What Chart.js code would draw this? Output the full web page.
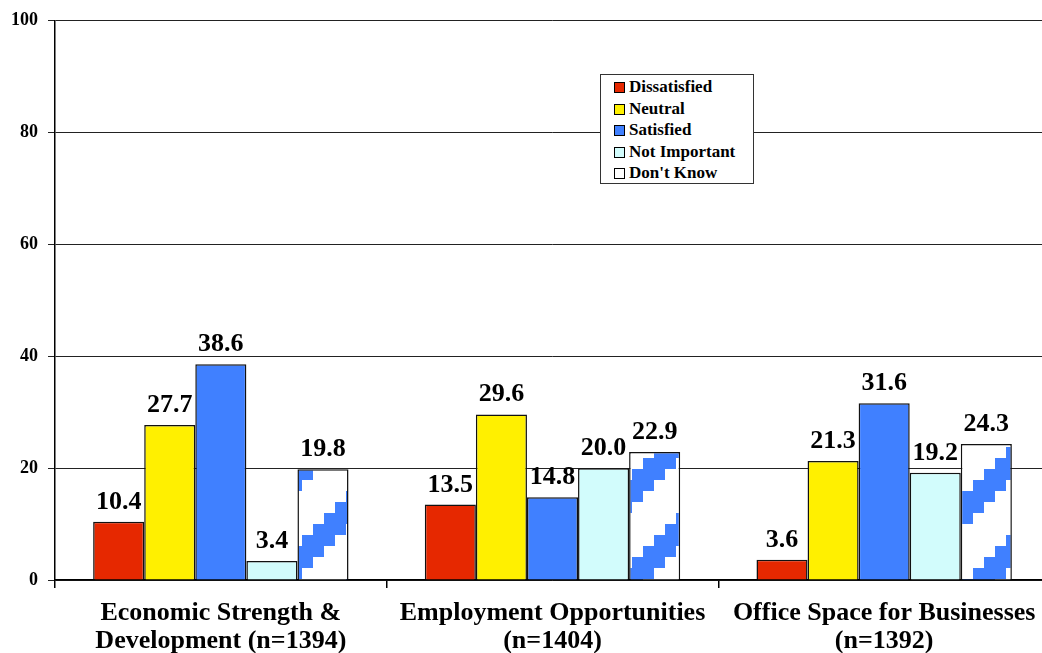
<!DOCTYPE html>
<html lang="en">
<head>
  <meta charset="UTF-8" />
  <title>Satisfaction ratings</title>
  <script src="https://cdn.jsdelivr.net/npm/chart.js"></script>
  <style>
    body {
      margin: 0;
      background: #fff;
      overflow: hidden;
    }
    .wrap {
      position: relative;
      width: 1050px;
      height: 653px;
    }
    .legenda {
      position: absolute;
      left: 600px;
      top: 74px;
      width: 152px;
      height: 107px;
      border: 1.5px solid #333;
      background: #fff;
      padding-top: 1px;
      font-family: 'Liberation Serif', 'Times New Roman', serif;
      font-weight: bold;
      font-size: 17px;
      color: #000;
    }
    .legenda div {
      height: 21.5px;
      line-height: 21.5px;
      padding-left: 13px;
      white-space: nowrap;
    }
    .legenda span {
      display: inline-block;
      width: 9px;
      height: 9px;
      border: 1px solid #000;
      margin-right: 4px;
      vertical-align: -1px;
    }
  </style>
</head>
<body>
  <div class="wrap">
    <canvas id="grafica" width="1050" height="653"></canvas>
    <div class="legenda" id="legenda"></div>
  </div>

  <script>
    const categorias = [
      ["Economic Strength &", "Development (n=1394)"],
      ["Employment Opportunities", "(n=1404)"],
      ["Office Space for Businesses", "(n=1392)"]
    ];
    const dissatisfied = [10.4, 13.5, 3.6];
    const neutral = [27.7, 29.6, 21.3];
    const satisfied = [38.6, 14.8, 31.6];
    const notImportant = [3.4, 20.0, 19.2];
    const dontKnow = [19.8, 22.9, 24.3];
    const yTicks = [0, 20, 40, 60, 80, 100];

    const serif = "'Liberation Serif', 'Times New Roman', serif";

    // rayas en escalera azul para "Don't Know"
    function hacerPatron() {
      const paso = 11, n = 8, lado = paso * n;
      const c = document.createElement("canvas");
      c.width = lado; c.height = lado;
      const g = c.getContext("2d");
      g.fillStyle = "#fff";
      g.fillRect(0, 0, lado, lado);
      g.fillStyle = "#4080ff";
      for (let i = 0; i < n; i++) {
        const y = (lado - (i + 1) * paso + lado) % lado;
        g.fillRect(i * paso, y, paso, paso * 3);
        g.fillRect(i * paso, y - lado, paso, paso * 3);
      }
      const p = g.createPattern(c, "repeat");
      p.setTransform(new DOMMatrix().translate(38, 18));
      return p;
    }

    const etiquetas = {
      id: "etiquetas",
      afterDatasetsDraw(chart) {
        const ctx = chart.ctx;
        ctx.save();
        ctx.font = "bold 26px " + serif;
        ctx.fillStyle = "#000";
        ctx.textAlign = "center";
        ctx.textBaseline = "alphabetic";
        chart.data.datasets.forEach((ds, i) => {
          chart.getDatasetMeta(i).data.forEach((bar, j) => {
            ctx.fillText(ds.data[j].toFixed(1), bar.x, bar.y - 13);
          });
        });
        ctx.restore();
      }
    };

    const series = [
      { label: "Dissatisfied", data: dissatisfied, color: "#e62800" },
      { label: "Neutral", data: neutral, color: "#fff000" },
      { label: "Satisfied", data: satisfied, color: "#4080ff" },
      { label: "Not Important", data: notImportant, color: "#d2fcfc" },
      { label: "Don't Know", data: dontKnow, color: "#ffffff", pattern: true }
    ];

    const chart = new Chart(document.getElementById("grafica"), {
      type: "bar",
      data: {
        labels: categorias,
        datasets: series.map(s => ({
          label: s.label,
          data: s.data,
          backgroundColor: s.pattern ? hacerPatron() : s.color,
          borderColor: "#111",
          borderWidth: 1.5,
          categoryPercentage: 0.77,
          barPercentage: 1
        }))
      },
      options: {
        responsive: false,
        animation: false,
        layout: { padding: { top: 18, right: 0, left: 0, bottom: 0 } },
        plugins: {
          legend: { display: false },
          tooltip: { enabled: false }
        },
        scales: {
          x: {
            afterFit(scale) { scale.height = 73; },
            grid: {
              drawOnChartArea: false,
              tickLength: 8,
              color: "#000",
              lineWidth: 1.5
            },
            border: { color: "#000", width: 1.5 },
            ticks: {
              color: "#000",
              padding: 11,
              maxRotation: 0,
              font: { family: serif, weight: "bold", size: 26, lineHeight: 1.08 }
            }
          },
          y: {
            min: 0,
            max: 100,
            afterFit(scale) { scale.width = 55; },
            afterBuildTicks(scale) { scale.ticks = yTicks.map(v => ({ value: v })); },
            grid: {
              color: "#222",
              lineWidth: 1,
              tickLength: 7
            },
            border: { color: "#000", width: 1.5 },
            ticks: {
              color: "#000",
              padding: 10,
              font: { family: serif, weight: "bold", size: 18 }
            }
          }
        }
      },
      plugins: [etiquetas]
    });

    // leyenda en HTML
    const leg = document.getElementById("legenda");
    series.forEach(s => {
      const fila = document.createElement("div");
      const cuadro = document.createElement("span");
      cuadro.style.background = s.color;
      fila.appendChild(cuadro);
      fila.appendChild(document.createTextNode(s.label));
      leg.appendChild(fila);
    });
  </script>
</body>
</html>
